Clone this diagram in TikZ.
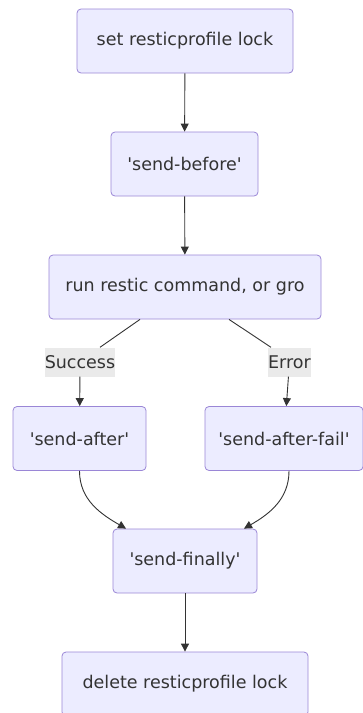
\documentclass[tikz,border=0pt]{standalone}
\usepackage{fontspec}
\setmainfont{DejaVu Sans}[Ligatures=TeXOff]
\usepackage{xcolor}
\definecolor{boxfill}{HTML}{ECECFF}
\definecolor{boxline}{HTML}{9A86D6}
\definecolor{ink}{HTML}{333333}
\definecolor{labelbg}{HTML}{E8E8E8}
\usetikzlibrary{arrows.meta, positioning}

\tikzset{
  stepbox/.style={draw=boxline, fill=boxfill, rounded corners=4pt, line width=0.8pt,
    text=ink, font=\fontsize{17.5}{20}\selectfont, inner sep=0pt, minimum height=64pt},
  edgelabel/.style={fill=labelbg, fill opacity=0.9, text opacity=1, text=ink,
    font=\fontsize{17.5}{20}\selectfont, inner sep=0pt, minimum height=29pt},
  flow/.style={draw=ink, line width=0.9pt, -{Triangle[length=8pt, width=8pt]}},
  link/.style={draw=ink, line width=0.9pt}
}

\begin{document}
\begin{tikzpicture}[x=1pt, y=-1pt]
  \useasboundingbox (0,0) rectangle (363,713);

  % --- nodes ---
  \node[stepbox, minimum width=216pt] (lockset) at (185,41) {set resticprofile lock};
  \node[stepbox, minimum width=147pt] (before) at (184.5,164) {'send-before'};
  \node[stepbox, minimum width=272pt] (run) at (185,287) {run restic command, or gro};

  \node[edgelabel, minimum width=66pt] (success) at (80,362) {Success};
  \node[edgelabel, minimum width=43pt] (error) at (289.5,362) {Error};

  \node[stepbox, minimum width=133pt] (after) at (79.5,438.5) {'send-after'};
  \node[stepbox, minimum width=158pt] (afterfail) at (284,438.5) {'send-after-fail'};
  \node[stepbox, minimum width=144pt] (finally) at (185,561) {'send-finally'};
  \node[stepbox, minimum width=246pt] (lockdel) at (185,684) {delete resticprofile lock};

  % --- connectors ---
  \draw[flow] (lockset) -- (before);
  \draw[flow] (before) -- (run);

  \draw[link] (run.south -| 140,0) -- (success.north -| 100,0);
  \draw[flow] (success) -- (after);
  \draw[link] (run.south -| 229,0) -- (error.north -| 271,0);
  \draw[flow] (error) -- (afterfail);

  \draw[flow] (after.south) to[out=-90, in=150] (finally.north -| 126,0);
  \draw[flow] (afterfail.south -| 289,0) to[out=-90, in=30] (finally.north -| 244,0);

  \draw[flow] (finally) -- (lockdel);
\end{tikzpicture}
\end{document}
